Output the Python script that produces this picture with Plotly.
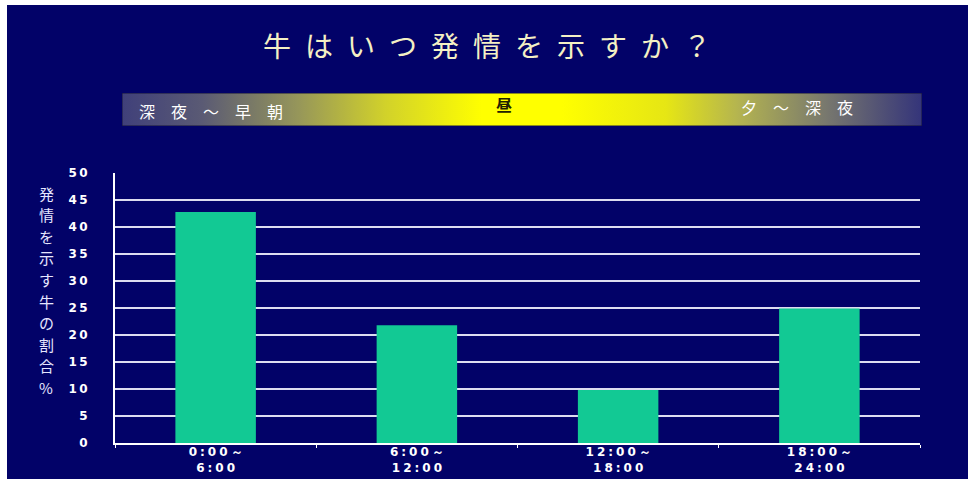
import plotly.graph_objects as go

# ---- data ----
categories = ["0:00～6:00", "6:00～12:00", "12:00～18:00", "18:00～24:00"]
values = [42.8, 21.8, 9.8, 24.9]
x_tick_labels = ["0:00～<br>6:00", "6:00～<br>12:00", "12:00～<br>18:00", "18:00～<br>24:00"]
y_ticks = [0, 5, 10, 15, 20, 25, 30, 35, 40, 45, 50]
title_text = "牛はいつ発情を示すか？"
y_title_text = "発情を示す牛の割合%"
band_left = "深夜～早朝"
band_mid = "昼"
band_right = "夕～深夜"

W, H = 968, 479
def px_x(p):
    return p / W
def px_y(p):
    return 1 - p / H

SP = "\u2005"      # four-per-em space for digit labels
THIN = "\u2009"
EN = "\u2002"
IDEO = "\u3000"

def spaced(s, sep):
    return "<br>".join(sep.join(list(line)) for line in s.split("<br>"))

NAVY = "#020268"
BAR = "#12c994"

fig = go.Figure()

fig.add_trace(go.Bar(
    x=categories, y=values, marker=dict(color=BAR, line=dict(width=0)),
    xaxis="x", yaxis="y", hoverinfo="x+y",
))

# gradient band (decorative) on its own axes
fig.add_trace(go.Scatter(
    x=[0, 1, 1, 0, 0], y=[0, 0, 1, 1, 0], mode="lines", fill="toself",
    line=dict(width=1, color="#15153a"),
    fillgradient=dict(type="horizontal", colorscale=[
        [0.0, "#40407a"], [0.1, "#5a5a74"], [0.22, "#96965a"], [0.33, "#d2d22a"],
        [0.45, "#ffff00"], [0.55, "#ffff00"], [0.68, "#e6e614"], [0.77, "#b4b450"],
        [0.88, "#78786e"], [1.0, "#34347a"]]),
    xaxis="x2", yaxis="y2", hoverinfo="skip", showlegend=False,
))

# vertical (stacked, upright) y-axis title: one character per row
y_title_annotations = []
pitch = 21.6
top_center = 193
for i, ch in enumerate(y_title_text):
    y_title_annotations.append(dict(
        text=ch, xref="paper", yref="paper",
        x=px_x(46), y=px_y(top_center + i * pitch),
        xanchor="center", yanchor="middle", showarrow=False,
        font=dict(family="Noto Sans CJK JP", size=15, color="#e6e6ff")))

fig.update_layout(
    width=W, height=H, autosize=False,
    margin=dict(l=0, r=0, t=0, b=0, pad=0, autoexpand=False),
    paper_bgcolor="white",
    plot_bgcolor="rgba(0,0,0,0)",
    showlegend=False,
    bargap=0.6,
    xaxis=dict(
        domain=[px_x(115), px_x(920)],
        type="category",
        tickvals=categories,
        ticktext=[spaced(t, SP) for t in x_tick_labels],
        tickson="boundaries",
        ticks="outside", ticklen=3, tickcolor="white", tickwidth=1,
        ticklabelstandoff=-3,
        showline=True, linecolor="white", linewidth=2,
        showgrid=False, automargin=False,
        tickfont=dict(family="DejaVu Sans", size=12, color="white", weight="bold"),
    ),
    yaxis=dict(
        domain=[px_y(443), px_y(173)],
        range=[0, 50],
        tickvals=y_ticks,
        ticktext=[THIN.join(list(str(v))) for v in y_ticks],
        showline=True, linecolor="white", linewidth=2,
        showgrid=True, gridcolor="#dcdcf0", gridwidth=2,
        zeroline=False, automargin=False,
        ticks="", ticklabelstandoff=23,
        tickfont=dict(family="DejaVu Sans", size=12, color="white", weight="bold"),
    ),
    xaxis2=dict(domain=[px_x(122), px_x(922)], range=[0, 1], visible=False,
                anchor="y2", fixedrange=True, automargin=False),
    yaxis2=dict(domain=[px_y(126), px_y(93)], range=[0, 1], visible=False,
                anchor="x2", fixedrange=True, automargin=False),
    title=dict(
        text=EN.join(list(title_text)),
        x=px_x(487), xanchor="center", xref="paper",
        y=px_y(47), yanchor="middle", yref="paper", automargin=False,
        font=dict(family="Noto Sans CJK JP", size=28, color="#f4f0c4"),
    ),
    shapes=[dict(type="rect", xref="paper", yref="paper", layer="below",
                 x0=px_x(7), x1=1, y0=0, y1=px_y(5),
                 fillcolor=NAVY, line=dict(width=0))],
    annotations=y_title_annotations + [
        dict(text=IDEO.join(list(band_left)), xref="paper", yref="paper",
             x=px_x(137), y=px_y(111), xanchor="left", yanchor="middle",
             showarrow=False,
             font=dict(family="Noto Sans CJK JP", size=16, color="white")),
        dict(text=band_mid, xref="paper", yref="paper",
             x=px_x(504), y=px_y(104), xanchor="center", yanchor="middle",
             showarrow=False,
             font=dict(family="Noto Sans CJK JP", size=16, color="#202000",
                       weight="bold")),
        dict(text=IDEO.join(list(band_right)), xref="paper", yref="paper",
             x=px_x(855), y=px_y(107), xanchor="right", yanchor="middle",
             showarrow=False,
             font=dict(family="Noto Sans CJK JP", size=16, color="white")),
    ],
)

fig.write_html("out.html")
